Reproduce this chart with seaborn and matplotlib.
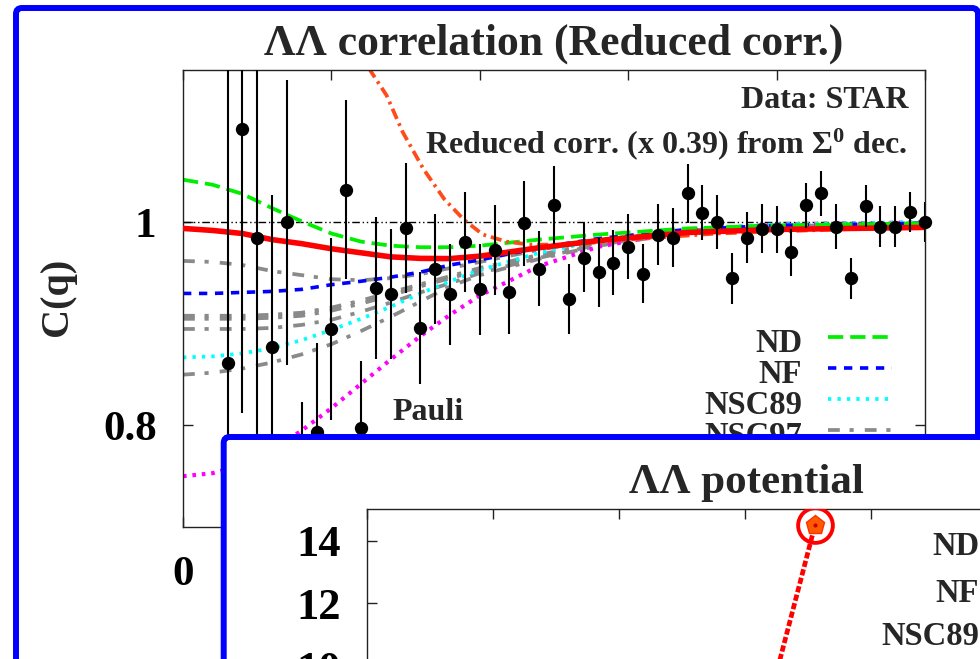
import matplotlib
matplotlib.use("Agg")
import matplotlib.pyplot as plt
from matplotlib.patches import FancyBboxPatch
from matplotlib.lines import Line2D
import seaborn as sns

# ---------------- data ----------------
# STAR Lambda-Lambda correlation (reduced), q in MeV/c
q_data = [15, 20, 25, 30, 35, 40, 45, 50, 55, 60, 65, 70, 75, 80, 85, 90,
          95, 100, 105, 110, 115, 120, 125, 130, 135, 140, 145, 150, 155, 160,
          165, 170, 175, 180, 185, 190, 195, 200, 205, 210, 215, 220, 225, 230,
          235, 240, 245, 250]
c_data = [0.861, 1.092, 0.985, 0.8775, 1.000, 0.745, 0.794, 0.895, 1.032, 0.797,
          0.935, 0.929, 0.994, 0.896, 0.954, 0.929, 0.9805, 0.934, 0.9726, 0.931,
          0.999, 0.9544, 1.017, 0.9245, 0.965, 0.951, 0.960, 0.976, 0.9495, 0.988,
          0.985, 1.0287, 1.0096, 1.0003, 0.945, 0.985, 0.9937, 0.993, 0.9706, 1.0168,
          1.0287, 0.9957, 0.945, 1.016, 0.9957, 0.9957, 1.0102, 1.0003]
c_err = [0.35, 0.28, 0.30, 0.149, 0.14, 0.078, 0.087, 0.09, 0.088, 0.066,
         0.07, 0.064, 0.064, 0.055, 0.054, 0.05, 0.049, 0.045, 0.044, 0.041,
         0.042, 0.037, 0.038, 0.034, 0.034, 0.034, 0.032, 0.032, 0.029, 0.03,
         0.029, 0.029, 0.027, 0.027, 0.025, 0.025, 0.024, 0.023, 0.023, 0.022,
         0.022, 0.022, 0.02, 0.021, 0.02, 0.02, 0.02, 0.02]

# model correlation functions
q_model = [0, 10, 20, 30, 40, 50, 60, 70, 80, 90, 100, 120, 140, 170, 200, 250]
c_red = [0.994, 0.992, 0.989, 0.983, 0.979, 0.974, 0.970, 0.966, 0.9645, 0.9643,
         0.9667, 0.975, 0.982, 0.990, 0.993, 0.995]
c_nd = [1.042, 1.037, 1.028, 1.014, 1.001, 0.989, 0.981, 0.977, 0.9755, 0.9755,
        0.977, 0.983, 0.988, 0.994, 0.997, 0.999]
c_nf = [0.930, 0.930, 0.931, 0.932, 0.934, 0.9386, 0.942, 0.946, 0.951, 0.958,
        0.963, 0.975, 0.984, 0.993, 0.997, 0.999]
c_nsc89 = [0.867, 0.868, 0.871, 0.876, 0.884, 0.894, 0.905, 0.917, 0.930, 0.942,
           0.953, 0.970, 0.982, 0.993, 0.998, 1.000]
c_nsc97 = [
    [0.962, 0.961, 0.958, 0.952, 0.948, 0.944, 0.943, 0.945, 0.949, 0.955,
     0.961, 0.973, 0.983, 0.992, 0.996, 0.999],
    [0.908, 0.908, 0.908, 0.909, 0.911, 0.916, 0.923, 0.931, 0.939, 0.947,
     0.955, 0.968, 0.980, 0.991, 0.996, 0.999],
    [0.905, 0.905, 0.905, 0.906, 0.908, 0.913, 0.920, 0.928, 0.937, 0.945,
     0.953, 0.967, 0.979, 0.990, 0.996, 0.999],
    [0.895, 0.895, 0.895, 0.896, 0.899, 0.904, 0.912, 0.921, 0.931, 0.940,
     0.950, 0.965, 0.978, 0.990, 0.996, 0.999],
    [0.850, 0.852, 0.856, 0.862, 0.870, 0.880, 0.893, 0.907, 0.922, 0.937,
     0.948, 0.964, 0.977, 0.990, 0.996, 0.999],
]
c_pauli = [0.750, 0.753, 0.761, 0.776, 0.795, 0.817, 0.841, 0.865, 0.888, 0.909,
           0.928, 0.957, 0.976, 0.992, 0.998, 1.000]
q_orange = [50, 55, 60, 63, 68.6, 74, 81, 88, 94.5, 101, 109, 117, 130, 150, 180, 220, 250]
c_orange = [1.33, 1.25, 1.18, 1.15, 1.125, 1.089, 1.0525, 1.023, 1.003, 0.988,
            0.981, 0.978, 0.978, 0.983, 0.989, 0.993, 0.995]

legend_labels = ["ND", "NF", "NSC89", "NSC97"]

# potential panel
r_pot = [1.778, 1.567]
v_pot = [14.5, 8.0]
pot_legend = ["ND", "NF", "NSC89"]

# ---------------- style ----------------
sns.set_theme(style="ticks")
plt.rcParams.update({
    "font.family": ["Liberation Serif", "DejaVu Serif"],
    "font.weight": "bold",
    "mathtext.fontset": "custom",
    "mathtext.rm": "Liberation Serif:bold",
    "mathtext.bf": "Liberation Serif:bold",
    "mathtext.it": "Liberation Serif:italic:bold",
    "lines.scale_dashes": False,
    "axes.linewidth": 1.0,
    "axes.edgecolor": "#222222",
})

W, H = 980, 659
fig = plt.figure(figsize=(W / 100, H / 100), dpi=100)
fig.patch.set_facecolor("white")


def fx(px):
    return px / W


def fy(py):
    return 1 - py / H


BLUE = "#0000ff"

# outer panel frame
fig.patches.append(FancyBboxPatch(
    (0.16, -1.0), 9.62, 7.51, boxstyle="round,pad=0,rounding_size=0.06",
    transform=fig.dpi_scale_trans, facecolor="none", edgecolor=BLUE,
    linewidth=4.3, zorder=0.5))

# ---------------- correlation panel ----------------
ax = fig.add_axes([fx(183), fy(527), (925 - 183) / W, (527 - 70) / H])
ax.set_zorder(1)
ax.set_xlim(0, 250)
ax.set_ylim(0.7, 1.15)

ax.axhline(1.0, color="black", lw=1.0, dashes=(5.5, 2, 1, 2, 1, 2), zorder=1)

gray_dash = (0, (8.5, 7, 3, 8))
for curve in c_nsc97:
    sns.lineplot(x=q_model, y=curve, ax=ax, color="#8a8a8a", lw=2.7,
                 linestyle=gray_dash, zorder=2)
sns.lineplot(x=q_model, y=c_pauli, ax=ax, color="#ff00ff", lw=3.0,
             linestyle=(0, (2.6, 4.2)), zorder=2)
sns.lineplot(x=q_model, y=c_nsc89, ax=ax, color="#00ffff", lw=2.7,
             linestyle=(0, (2.4, 4.4)), zorder=2)
sns.lineplot(x=q_model, y=c_nf, ax=ax, color="#0000ff", lw=2.6,
             linestyle=(0, (6, 5.5)), zorder=2)
sns.lineplot(x=q_model, y=c_nd, ax=ax, color="#00ee00", lw=2.7,
             linestyle=(0, (11, 5)), zorder=2)
sns.lineplot(x=q_orange, y=c_orange, ax=ax, color="#ff4a1a", lw=2.7,
             linestyle=(0, (8, 3.5, 2, 3.5)), zorder=2)
sns.lineplot(x=q_model, y=c_red, ax=ax, color="#ff0000", lw=4.0, zorder=3)

ax.errorbar(q_data, c_data, yerr=c_err, fmt="none", ecolor="black",
            elinewidth=1.5, capsize=0, zorder=4)
sns.scatterplot(x=q_data, y=c_data, ax=ax, color="black", s=92,
                edgecolor="black", linewidth=0, zorder=5, clip_on=False)

ax.set_xticks([0, 50, 100, 150, 200, 250])
ax.set_xticklabels(["0", "", "", "", "", ""])
ax.set_yticks([0.8, 1.0])
ax.set_yticklabels(["0.8", "1"])
ax.tick_params(axis="both", direction="in", length=7.5, width=1.0,
               top=True, right=True, labelsize=31, colors="#222222",
               labelcolor="black")
ax.tick_params(axis="x", pad=21)
ax.tick_params(axis="y", pad=19)
ax.set_xlabel("")
ax.set_ylabel("")
for s in ax.spines.values():
    s.set_visible(True)

fig.text(fx(554), fy(55), "ΛΛ correlation (Reduced corr.)", ha="center",
         va="baseline", fontsize=31.5, fontweight="bold", zorder=2)
fig.text(fx(58), fy(297), "C(q)", rotation=90, ha="center", va="center",
         fontsize=29, fontweight="bold", zorder=2)
fig.text(fx(908), fy(108), "Data: STAR", ha="right", va="baseline",
         fontsize=23, fontweight="bold", zorder=2)
fig.text(fx(908), fy(153), r"Reduced corr. (x 0.39) from Σ$^{\mathbf{0}}$ dec.",
         ha="right", va="baseline", fontsize=23, fontweight="bold", zorder=2)
fig.text(fx(392), fy(420), "Pauli", ha="left", va="baseline", fontsize=23,
         fontweight="bold", zorder=2)

# legend of the correlation panel
leg_styles = [
    dict(color="#00ee00", lw=2.7, linestyle=(0, (11, 5))),
    dict(color="#0000ff", lw=2.6, linestyle=(0, (6, 5.5))),
    dict(color="#00ffff", lw=2.7, linestyle=(0, (2.4, 4.4))),
    dict(color="#8a8a8a", lw=2.7, linestyle=gray_dash),
]
leg_line_y = [337, 368, 399, 430]
leg_text_y = [352, 383, 414, 445]
for lab, st, ly, ty in zip(legend_labels, leg_styles, leg_line_y, leg_text_y):
    fig.text(fx(802), fy(ty), lab, ha="right", va="baseline", fontsize=23.5,
             fontweight="bold", zorder=2)
    fig.add_artist(Line2D([fx(828), fx(892)], [fy(ly), fy(ly)],
                          transform=fig.transFigure, zorder=2, **st))

# ---------------- potential panel (overlay) ----------------
fig.patches.append(FancyBboxPatch(
    (2.237, -1.41), 8.76, 3.63, boxstyle="round,pad=0,rounding_size=0.06",
    transform=fig.dpi_scale_trans, facecolor="white", edgecolor=BLUE,
    linewidth=4.3, zorder=5))

axp = fig.add_axes([fx(367), 1 - 979.6 / H, 630 / W, 470.25 / H])
axp.set_zorder(6)
axp.set_facecolor("white")
axp.set_xlim(0, 2.5)
axp.set_ylim(0, 15)
sns.lineplot(x=r_pot, y=v_pot, ax=axp, color="#ff0000", lw=3.4,
             linestyle=(0, (4.5, 1.8)), zorder=3)
axp.plot([r_pot[0]], [v_pot[0]], marker="o", ms=25, mfc="none", mec="#ff0000",
         mew=2.8, zorder=4)
axp.plot([r_pot[0]], [v_pot[0]], marker="p", ms=14, mfc="#ff5a00",
         mec="#ff3000", mew=1.0, zorder=5)
axp.plot([r_pot[0]], [v_pot[0]], marker="o", ms=3, mfc="#cc0000",
         mec="none", zorder=6)
axp.set_xticks([0, 0.5, 1.0, 1.5, 2.0, 2.5])
axp.set_yticks([10, 12, 14])
axp.set_yticklabels(["10", "12", "14"])
axp.tick_params(axis="both", direction="in", length=7.5, width=1.0,
                top=True, right=True, labelsize=32, colors="#222222",
                labelcolor="black", labelbottom=False)
axp.tick_params(axis="y", pad=19)
axp.set_xlabel("")
axp.set_ylabel("")

fig.text(fx(746), fy(493), "ΛΛ potential", ha="center", va="baseline",
         fontsize=31, fontweight="bold", zorder=7)
for lab, ty in zip(pot_legend, [555, 601.5, 645]):
    fig.text(fx(979), fy(ty), lab, ha="right", va="baseline", fontsize=23.5,
             fontweight="bold", zorder=7)

fig.savefig("out.png", dpi=100)
